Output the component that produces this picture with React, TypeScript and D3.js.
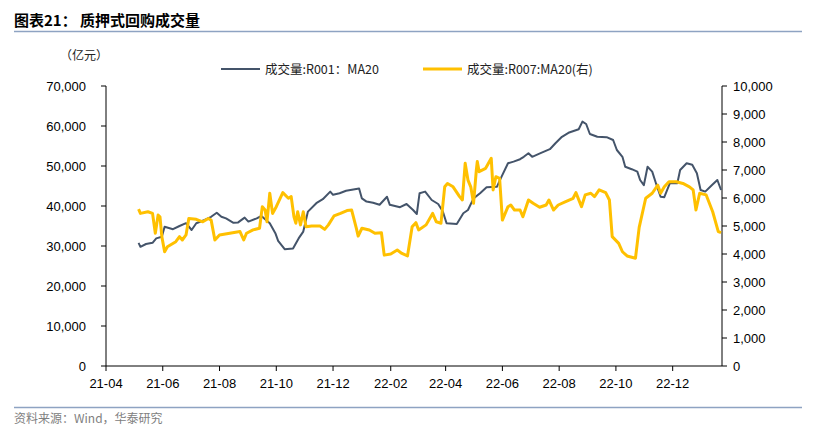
import React from 'react';
import * as d3 from 'd3';

// 成交量:R001：MA20 (亿元, left axis)
const r001Dates = [
  '2021-05-06', '2021-05-08', '2021-05-14', '2021-05-21', '2021-05-25', '2021-05-31',
  '2021-06-03', '2021-06-12', '2021-06-19', '2021-06-26', '2021-07-02', '2021-07-07',
  '2021-07-16', '2021-07-23', '2021-07-29', '2021-08-03', '2021-08-08', '2021-08-16',
  '2021-08-21', '2021-08-28', '2021-09-01', '2021-09-10', '2021-09-15', '2021-09-24',
  '2021-09-30', '2021-10-03', '2021-10-10', '2021-10-19', '2021-10-25', '2021-10-30',
  '2021-11-04', '2021-11-13', '2021-11-20', '2021-11-28', '2021-12-01', '2021-12-08',
  '2021-12-15', '2021-12-29', '2022-01-01', '2022-01-06', '2022-01-13', '2022-01-20',
  '2022-01-28', '2022-01-31', '2022-02-11', '2022-02-18', '2022-02-25', '2022-03-01',
  '2022-03-04', '2022-03-10', '2022-03-17', '2022-03-24', '2022-03-29', '2022-04-02',
  '2022-04-13', '2022-04-20', '2022-04-25', '2022-05-01', '2022-05-08', '2022-05-15',
  '2022-05-26', '2022-05-31', '2022-06-07', '2022-06-13', '2022-06-20', '2022-06-24',
  '2022-06-29', '2022-07-03', '2022-07-12', '2022-07-22', '2022-07-28', '2022-08-04',
  '2022-08-11', '2022-08-22', '2022-08-26', '2022-08-30', '2022-09-03', '2022-09-11',
  '2022-09-21', '2022-09-28', '2022-10-02', '2022-10-08', '2022-10-11', '2022-10-18',
  '2022-10-24', '2022-10-27', '2022-10-31', '2022-11-04', '2022-11-09', '2022-11-13',
  '2022-11-18', '2022-11-22', '2022-11-28', '2022-12-06', '2022-12-09', '2022-12-16',
  '2022-12-22', '2022-12-27', '2022-12-31', '2023-01-05', '2023-01-12', '2023-01-18',
  '2023-01-22',
];
const r001Values = [
  30800, 29800, 30500, 30800, 31900, 32300,
  34800, 34200, 35000, 35700, 34000, 35700,
  36500, 37300, 38300, 37300, 36900, 35800,
  35900, 37100, 36100, 36900, 37500, 35700,
  33200, 31300, 29200, 29400, 31900, 33600,
  38600, 40700, 41700, 43600, 42800, 43200,
  43800, 44400, 41900, 41100, 40800, 40300,
  42300, 40300, 39700, 40500, 39000, 38000,
  43200, 43600, 41500, 40500, 38600, 35700,
  35500, 38200, 39000, 41900, 43200, 44700,
  44800, 47300, 50700, 51100, 51700, 52300,
  53200, 52300, 53200, 54200, 55700, 57300,
  58300, 59200, 61100, 60500, 58000, 57300,
  57200, 56500, 54000, 52300, 49800, 49200,
  48600, 46500, 45200, 49800, 48600, 45700,
  42300, 42200, 45700, 45700, 49000, 50700,
  50300, 48200, 44000, 43600, 45200, 46500,
  44000,
];

// 成交量:R007:MA20 (右, right axis)
const r007Dates = [
  '2021-05-06', '2021-05-08', '2021-05-16', '2021-05-21', '2021-05-24', '2021-05-27',
  '2021-05-29', '2021-05-31', '2021-06-03', '2021-06-06', '2021-06-15', '2021-06-19',
  '2021-06-22', '2021-06-26', '2021-06-29', '2021-07-07', '2021-07-14', '2021-07-20',
  '2021-07-23', '2021-07-27', '2021-08-01', '2021-08-12', '2021-08-23', '2021-08-27',
  '2021-08-30', '2021-09-06', '2021-09-13', '2021-09-16', '2021-09-19', '2021-09-21',
  '2021-09-24', '2021-09-27', '2021-10-01', '2021-10-08', '2021-10-14', '2021-10-17',
  '2021-10-20', '2021-10-22', '2021-10-24', '2021-10-27', '2021-10-30', '2021-11-02',
  '2021-11-08', '2021-11-17', '2021-11-22', '2021-11-26', '2021-12-02', '2021-12-09',
  '2021-12-16', '2021-12-21', '2021-12-26', '2021-12-28', '2022-01-01', '2022-01-09',
  '2022-01-15', '2022-01-22', '2022-01-25', '2022-02-01', '2022-02-08', '2022-02-13',
  '2022-02-19', '2022-02-24', '2022-02-28', '2022-03-03', '2022-03-11', '2022-03-18',
  '2022-03-22', '2022-03-27', '2022-03-31', '2022-04-03', '2022-04-09', '2022-04-16',
  '2022-04-19', '2022-04-22', '2022-04-25', '2022-04-28', '2022-05-01', '2022-05-04',
  '2022-05-05', '2022-05-07', '2022-05-14', '2022-05-20', '2022-05-22', '2022-05-25',
  '2022-05-29', '2022-06-01', '2022-06-07', '2022-06-10', '2022-06-14', '2022-06-20',
  '2022-06-23', '2022-06-29', '2022-07-04', '2022-07-11', '2022-07-18', '2022-07-21',
  '2022-07-26', '2022-07-31', '2022-08-08', '2022-08-16', '2022-08-19', '2022-08-25',
  '2022-08-29', '2022-09-04', '2022-09-08', '2022-09-13', '2022-09-20', '2022-09-24',
  '2022-09-27', '2022-10-04', '2022-10-08', '2022-10-13', '2022-10-22', '2022-10-26',
  '2022-11-02', '2022-11-09', '2022-11-15', '2022-11-18', '2022-11-22', '2022-11-27',
  '2022-12-05', '2022-12-12', '2022-12-19', '2022-12-23', '2022-12-26', '2022-12-30',
  '2023-01-06', '2023-01-13', '2023-01-19', '2023-01-22',
];
const r007Values = [
  5600, 5450, 5510, 5450, 4740, 5390,
  5330, 4620, 4080, 4260, 4440, 4620,
  4500, 4680, 5270, 5240, 5150, 5270,
  5210, 4500, 4680, 4740, 4800, 4500,
  4740, 4860, 4920, 5690, 5570, 5150,
  6170, 5450, 5690, 6190, 5990, 6050,
  5330, 5100, 5510, 5040, 5510, 4970,
  5000, 5000, 4880, 5040, 5360, 5450,
  5550, 5570, 4920, 4640, 4920, 4860,
  4740, 4760, 3960, 4000, 4140, 4020,
  3930, 4970, 5120, 4860, 5040, 5450,
  5150, 5100, 6400, 6520, 6400, 6050,
  5930, 7240, 6640, 6400, 5810, 7000,
  7300, 6940, 7060, 7420, 6290, 6760,
  6700, 5210, 5690, 5750, 5570, 5570,
  5330, 5930, 5810, 5670, 5750, 5930,
  5570, 5750, 5870, 5990, 6190, 5690,
  6110, 6170, 6050, 6290, 6190, 5930,
  4620, 4380, 4080, 3930, 3850, 4950,
  5990, 6170, 6460, 6170, 6400, 6580,
  6580, 6520, 6400, 6290, 5570, 6170,
  6110, 5510, 4800, 4760,
];

const xTickDates = [
  '2021-04-01', '2021-06-01', '2021-08-01', '2021-10-01', '2021-12-01', '2022-02-01',
  '2022-04-01', '2022-06-01', '2022-08-01', '2022-10-01', '2022-12-01',
];
const leftTicks = [0, 10000, 20000, 30000, 40000, 50000, 60000, 70000];
const rightTicks = [0, 1000, 2000, 3000, 4000, 5000, 6000, 7000, 8000, 9000, 10000];

const title = '图表21：  质押式回购成交量';
const unitLabel = '（亿元）';
const seriesNames = ['成交量:R001：MA20', '成交量:R007:MA20(右)'];
const source = '资料来源：Wind，华泰研究';

const parse = d3.timeParse('%Y-%m-%d');
const fmtDate = d3.timeFormat('%y-%m');
const fmtNum = d3.format(',');

const CJK = '"Noto Sans CJK SC", "Liberation Sans", sans-serif';
const NUM = '"Liberation Sans", Arial, sans-serif';

export default function App() {
  const W = 815;
  const H = 437;
  const left = 106;
  const right = 722;
  const top = 86;
  const bottom = 366;

  const x = d3.scaleTime()
    .domain([parse('2021-04-01') as Date, parse('2023-01-23') as Date])
    .range([left, right]);
  const yL = d3.scaleLinear().domain([0, 70000]).range([bottom, top]);
  const yR = d3.scaleLinear().domain([0, 10000]).range([bottom, top]);

  const r001 = r001Dates.map((d, i) => [parse(d) as Date, r001Values[i]] as [Date, number]);
  const r007 = r007Dates.map((d, i) => [parse(d) as Date, r007Values[i]] as [Date, number]);

  const lineL = d3.line<[Date, number]>().x(d => x(d[0])).y(d => yL(d[1]));
  const lineR = d3.line<[Date, number]>().x(d => x(d[0])).y(d => yR(d[1]));

  return (
    <svg width={W} height={H} style={{ position: 'absolute', left: 0, top: 0, background: '#fff' }}>
      <text x={14} y={26} fontFamily={CJK} fontSize={15} fontWeight={700} fill="#000">{title}</text>
      <line x1={14} x2={802} y1={31.5} y2={31.5} stroke="#8EA3C2" strokeWidth={1.5} />

      <text x={60} y={60} fontFamily={CJK} fontSize={12} fill="#222">{unitLabel}</text>

      {/* legend */}
      <line x1={221} x2={260} y1={69} y2={69} stroke="#44546A" strokeWidth={2} />
      <text x={265} y={73.5} fontFamily={CJK} fontSize={12.5} fill="#222">{seriesNames[0]}</text>
      <line x1={423} x2={462} y1={69} y2={69} stroke="#FFC000" strokeWidth={3} />
      <text x={467} y={73.5} fontFamily={CJK} fontSize={12.5} fill="#222">{seriesNames[1]}</text>

      {/* left axis */}
      <line x1={left} x2={left} y1={top} y2={bottom} stroke="#000" />
      {leftTicks.map(t => (
        <g key={'l' + t}>
          <line x1={left - 5} x2={left} y1={yL(t)} y2={yL(t)} stroke="#000" />
          <text x={86} y={yL(t) + 4.5} textAnchor="end" fontFamily={NUM} fontSize={13} fill="#000">{fmtNum(t)}</text>
        </g>
      ))}

      {/* right axis */}
      <line x1={right} x2={right} y1={top} y2={bottom} stroke="#000" />
      {rightTicks.map(t => (
        <g key={'r' + t}>
          <line x1={right} x2={right + 5} y1={yR(t)} y2={yR(t)} stroke="#000" />
          <text x={733} y={yR(t) + 4.5} textAnchor="start" fontFamily={NUM} fontSize={13} fill="#000">{fmtNum(t)}</text>
        </g>
      ))}

      {/* bottom axis */}
      <line x1={left} x2={right} y1={bottom} y2={bottom} stroke="#000" />
      {xTickDates.map(s => {
        const d = parse(s) as Date;
        return (
          <g key={s}>
            <line x1={x(d)} x2={x(d)} y1={bottom} y2={bottom + 5} stroke="#000" />
            <text x={x(d)} y={388} textAnchor="middle" fontFamily={NUM} fontSize={13} fill="#000">{fmtDate(d)}</text>
          </g>
        );
      })}

      <path d={lineL(r001) || ''} fill="none" stroke="#44546A" strokeWidth={2} strokeLinejoin="round" />
      <path d={lineR(r007) || ''} fill="none" stroke="#FFC000" strokeWidth={3} strokeLinejoin="round" />

      <line x1={14} x2={802} y1={407.5} y2={407.5} stroke="#8EA3C2" strokeWidth={1.5} />
      <text x={14} y={423} fontFamily={CJK} fontSize={12} fill="#808080">{source}</text>
    </svg>
  );
}
